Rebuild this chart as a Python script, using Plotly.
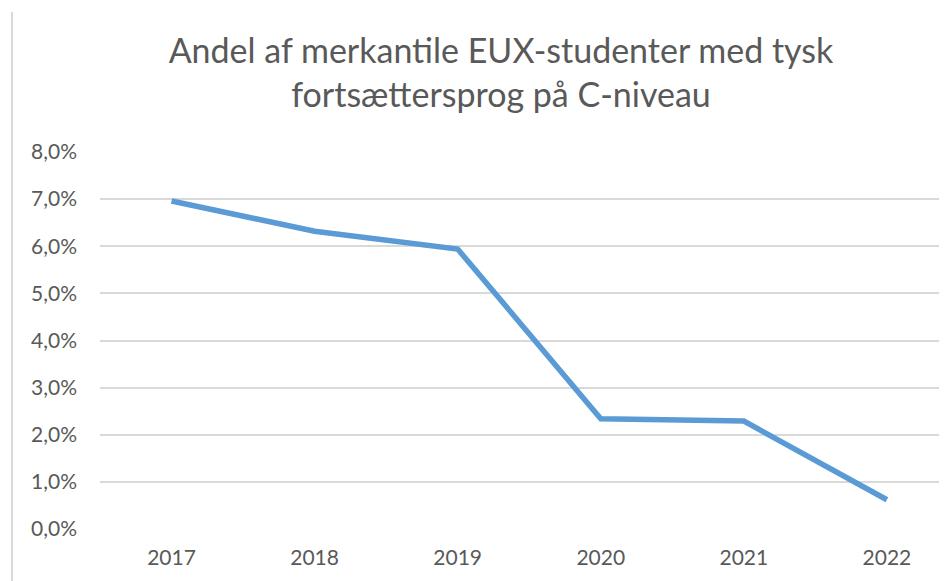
import plotly.graph_objects as go

years = ["2017", "2018", "2019", "2020", "2021", "2022"]
share = [0.0696, 0.0632, 0.0594, 0.0234, 0.0229, 0.0062]
y_ticks = [0, 0.01, 0.02, 0.03, 0.04, 0.05, 0.06, 0.07, 0.08]

W, H = 939, 573
L, R, T, B = 92, 0, 144, 52
PW, PH = W - L - R, H - T - B

fig = go.Figure()
fig.add_trace(go.Scatter(
    x=years, y=share, mode="lines",
    line=dict(color="#5B9BD5", width=5.5),
))

font_family = "Lato, Open Sans, sans-serif"
fig.update_layout(
    width=W, height=H,
    margin=dict(l=L, r=R, t=T, b=B),
    paper_bgcolor="white", plot_bgcolor="white",
    separators=", ",
    showlegend=False,
    title=dict(
        text="Andel af merkantile EUX-studenter med tysk<br>fortsættersprog på C-niveau",
        x=(501 - 8) / W, xanchor="center", xref="container",
        y=1 - 55 / H, yanchor="middle", yref="container",
        font=dict(family=font_family, size=34, color="#595959"),
    ),
    font=dict(family=font_family, color="#595959", size=21),
)
fig.update_xaxes(
    type="category", range=[-0.5, 5.42],
    showgrid=False, zeroline=False, showline=False,
    ticks="", ticklabelstandoff=14,
    tickfont=dict(size=21, color="#595959"),
)
fig.update_yaxes(
    range=[0, 0.08], tickvals=y_ticks, tickformat=".1%",
    showgrid=True, gridcolor="#D9D9D9", gridwidth=1.5,
    zeroline=False, showline=False, ticks="", ticklabelstandoff=22,
    tickfont=dict(size=21, color="#595959"),
)
fig.add_shape(type="line", xref="paper", yref="paper",
              x0=(4 - L) / PW, x1=(4 - L) / PW,
              y0=-B / PH - 0.05, y1=1 + (T - 4) / PH,
              line=dict(color="#D9D9D9", width=2))
fig.write_html("out.html")
